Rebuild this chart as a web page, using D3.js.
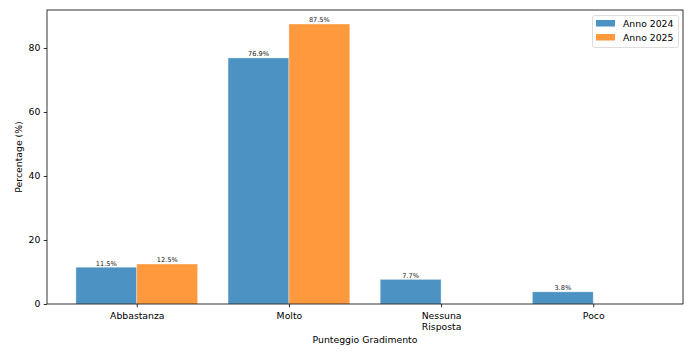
<!DOCTYPE html>
<html><head><meta charset="utf-8">
<script src="https://cdn.jsdelivr.net/npm/d3@7"></script>
<style>body{margin:0;background:#fff}svg{display:block}text{font-family:"DejaVu Sans",sans-serif}</style>
</head><body><svg id="c" width="692" height="352"></svg>
<script>
const categories = ["Abbastanza", "Molto", "Nessuna\nRisposta", "Poco"];
const series = ["Anno 2024", "Anno 2025"];
const values2024 = [11.5, 76.9, 7.7, 3.8];
const values2025 = [12.5, 87.5, 0, 0];
const yTicks = [0, 20, 40, 60, 80];
const colors = ["#1f77b4", "#ff7f0e"];

const FS = 9.3, LFS = 6.6;
const svg = d3.select("#c");
const L = 47, R = 683, T = 10, B = 304;
const barW = 0.4;
const x = d3.scaleLinear().domain([-0.59, categories.length - 1 + 0.59]).range([L, R]);
const yMax = d3.max([...values2024, ...values2025]) * 1.05;
const y = d3.scaleLinear().domain([0, yMax]).range([B, T]);

const data = [values2024, values2025];
data.forEach((vals, si) => {
  const g = svg.append("g");
  vals.forEach((v, i) => {
    const x0 = x(i - barW + si * barW), x1 = x(i + si * barW);
    g.append("rect").attr("x", x0).attr("y", y(v)).attr("width", x1 - x0).attr("height", y(0) - y(v))
      .attr("fill", colors[si]).attr("fill-opacity", 0.8)
      .attr("stroke", "#fff").attr("stroke-opacity", 0.5).attr("stroke-width", 0.7);
    if (v > 0) {
      g.append("text").attr("x", (x0 + x1) / 2).attr("y", y(v) - 1.6).attr("text-anchor", "middle")
        .attr("font-size", LFS).attr("fill", "#222").text(v.toFixed(1) + "%");
    }
  });
});

// frame
svg.append("rect").attr("x", L).attr("y", T).attr("width", R - L).attr("height", B - T)
  .attr("fill", "none").attr("stroke", "#000").attr("stroke-width", 0.8);

// y axis
const ya = svg.append("g").attr("transform", `translate(${L},0)`)
  .call(d3.axisLeft(y).tickValues(yTicks).tickSize(3.3).tickPadding(3.4).tickFormat(d3.format("d")));
ya.select(".domain").remove();
ya.selectAll("line").attr("stroke", "#000").attr("stroke-width", 0.8);
ya.selectAll("text").attr("font-size", FS).attr("fill", "#000").style("font-family", '"DejaVu Sans",sans-serif');

// x axis
const xa = svg.append("g").attr("transform", `translate(0,${B})`)
  .call(d3.axisBottom(x).tickValues(d3.range(categories.length)).tickSize(3.3).tickPadding(3.4).tickFormat(() => ""));
xa.select(".domain").remove();
xa.selectAll("line").attr("stroke", "#000").attr("stroke-width", 0.8);
xa.selectAll(".tick").each(function(d) {
  const t = d3.select(this).select("text").attr("font-size", FS).attr("fill", "#000")
    .style("font-family", '"DejaVu Sans",sans-serif').attr("dy", null).attr("y", 0);
  categories[d].split("\n").forEach((line, k) => {
    t.append("tspan").attr("x", 0).attr("y", 14.5 + k * 11).text(line);
  });
});

// axis titles
svg.append("text").attr("x", (L + R) / 2).attr("y", 343).attr("text-anchor", "middle")
  .attr("font-size", FS).attr("fill", "#000").text("Punteggio Gradimento");
svg.append("text").attr("transform", `translate(22,${(T + B) / 2}) rotate(-90)`).attr("text-anchor", "middle")
  .attr("font-size", FS).attr("fill", "#000").text("Percentage (%)");

// legend
const lg = svg.append("g");
lg.append("rect").attr("x", 592.5).attr("y", 15.5).attr("width", 86).attr("height", 32).attr("rx", 2)
  .attr("fill", "#fff").attr("fill-opacity", 0.8).attr("stroke", "#d6d6d6").attr("stroke-width", 0.8);
series.forEach((s, i) => {
  lg.append("rect").attr("x", 596).attr("y", 20 + i * 14).attr("width", 19).attr("height", 6.5)
    .attr("fill", colors[i]).attr("fill-opacity", 0.8);
  lg.append("text").attr("x", 623).attr("y", 26.8 + i * 14).attr("font-size", FS).attr("fill", "#000").text(s);
});
</script></body></html>
